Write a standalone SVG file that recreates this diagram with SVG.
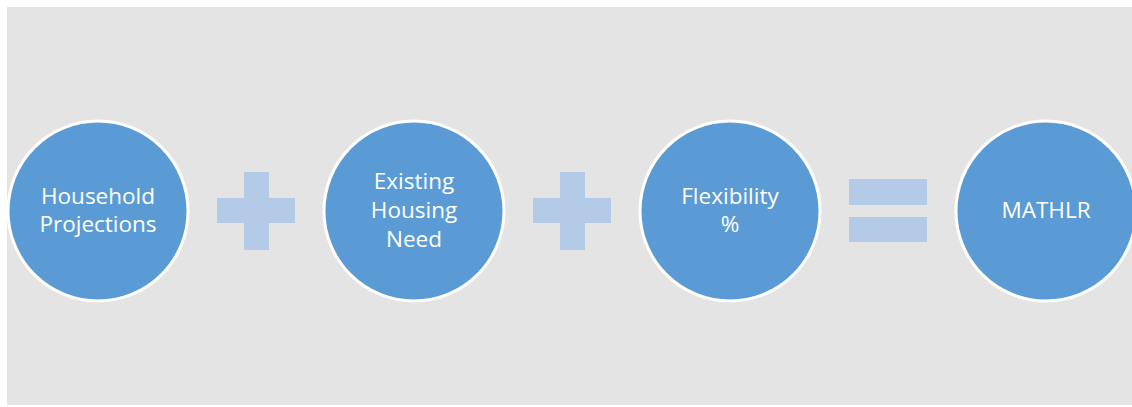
<svg xmlns="http://www.w3.org/2000/svg" width="1132" height="407" viewBox="0 0 1132 407">
<style>
.bg{fill:#E4E4E4}
.node{fill:#5B9BD5;stroke:#FFFFFF;stroke-width:3}
.op{fill:#B4CBE7}
.lbl{font-family:"Open Sans","Noto Sans",sans-serif;font-size:22.5px;fill:#FFFFFF;text-anchor:middle}
</style>
<rect class="bg" x="7" y="7" width="1125" height="398"/>
<g id="node-household">
<circle class="node" cx="98" cy="211" r="90"/>
<text class="lbl" x="98" y="204">Household</text>
<text class="lbl" x="98" y="232">Projections</text>
</g>
<g id="node-existing">
<circle class="node" cx="414" cy="211" r="90"/>
<text class="lbl" x="414" y="189">Existing</text>
<text class="lbl" x="414" y="218">Housing</text>
<text class="lbl" x="414" y="247">Need</text>
</g>
<g id="node-flexibility">
<circle class="node" cx="730" cy="211" r="90"/>
<text class="lbl" x="730" y="204">Flexibility</text>
<text class="lbl" x="730" y="232">%</text>
</g>
<g id="node-mathlr">
<circle class="node" cx="1046" cy="211" r="90"/>
<text class="lbl" x="1046" y="218">MATHLR</text>
</g>
<g id="connectors">
<path class="op" d="M244 172H269V198H295V223H269V250H244V223H217V198H244Z"/>
<path class="op" d="M560 172H585V198H611V223H585V250H560V223H533V198H560Z"/>
<rect class="op" x="849" y="179" width="78" height="26"/>
<rect class="op" x="849" y="217" width="78" height="25"/>
</g>
</svg>
